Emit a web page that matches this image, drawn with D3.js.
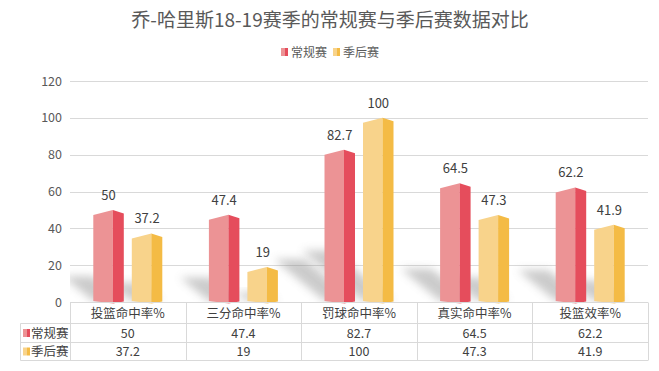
<!DOCTYPE html>
<html>
<head>
<meta charset="utf-8">
<script src="https://cdn.jsdelivr.net/npm/d3@7"></script>
<style>
  body { margin: 0; background: #fff; }
  text { font-family: "Noto Sans CJK SC", "Noto Sans", sans-serif; }
</style>
</head>
<body>
<svg width="659" height="371"></svg>
<script>
var categories = ["投篮命中率%", "三分命中率%", "罚球命中率%", "真实命中率%", "投篮效率%"];
var seriesNames = ["常规赛", "季后赛"];
var regular = [50, 47.4, 82.7, 64.5, 62.2];
var playoff = [37.2, 19, 100, 47.3, 41.9];
var yTicks = [0, 20, 40, 60, 80, 100, 120];

var svg = d3.select("svg"),
    width = +svg.attr("width"),
    height = +svg.attr("height");

// plot area (window.top is reserved, so use own names)
var plotLeft = 70, plotRight = 648, plotTop = 81, plotBottom = 302;

var x = d3.scaleBand().domain(categories).range([plotLeft, plotRight]);
var y = d3.scaleLinear().domain([0, 120]).range([plotBottom, plotTop]);

// front / side colours for each series
var colors = [
    {front: "#ec9395", side: "#e54d5c"},
    {front: "#f8d38b", side: "#f4bb45"}
];

var defs = svg.append("defs");
defs.append("filter")
    .attr("id", "blur")
    .attr("x", "-50%").attr("y", "-50%")
    .attr("width", "200%").attr("height", "200%")
    .append("feGaussianBlur")
    .attr("stdDeviation", 4);
defs.append("clipPath")
    .attr("id", "plotclip")
    .append("rect")
    .attr("x", plotLeft).attr("y", plotTop - 20)
    .attr("width", plotRight - plotLeft).attr("height", plotBottom - plotTop + 20);

// title
svg.append("text")
    .attr("x", 330)
    .attr("y", 27)
    .attr("text-anchor", "middle")
    .attr("font-size", 19)
    .attr("fill", "#595959")
    .text("乔-哈里斯18-19赛季的常规赛与季后赛数据对比");

// legend
function keyIcon(g, i, kx, ky) {
    g.append("rect").attr("x", kx).attr("y", ky).attr("width", 4).attr("height", 8).attr("fill", colors[i].front);
    g.append("rect").attr("x", kx + 4).attr("y", ky).attr("width", 3).attr("height", 8).attr("fill", colors[i].side);
}
var legend = svg.append("g");
var legendX = [281, 333];
seriesNames.forEach(function (name, i) {
    keyIcon(legend, i, legendX[i], 48);
    legend.append("text")
        .attr("x", legendX[i] + 10)
        .attr("y", 56.5)
        .attr("font-size", 12)
        .attr("fill", "#595959")
        .text(name);
});

// gridlines
svg.append("g")
    .selectAll("line")
    .data(yTicks)
    .enter().append("line")
    .attr("x1", plotLeft)
    .attr("x2", plotRight)
    .attr("y1", function (d) { return Math.round(y(d)) + 0.5; })
    .attr("y2", function (d) { return Math.round(y(d)) + 0.5; })
    .attr("stroke", "#d9d9d9")
    .attr("stroke-width", 1);

// y axis labels
svg.append("g")
    .selectAll("text")
    .data(yTicks)
    .enter().append("text")
    .attr("x", 62)
    .attr("y", function (d) { return y(d) + 4.5; })
    .attr("text-anchor", "end")
    .attr("font-size", 12.5)
    .attr("fill", "#595959")
    .text(function (d) { return d; });

// bar geometry inside a band
var frontW = 19.5, sideW = 11, gap = 8;
var groupW = 2 * (frontW + sideW) + gap;
function barX(cat, i) {
    return x(cat) + (x.bandwidth() - groupW) / 2 + i * (frontW + sideW + gap);
}

var bars = [];
categories.forEach(function (c, ci) {
    [regular[ci], playoff[ci]].forEach(function (v, si) {
        bars.push({cat: c, series: si, value: v});
    });
});

// soft cast shadows
svg.append("g")
    .attr("clip-path", "url(#plotclip)")
    .selectAll("path")
    .data(bars)
    .enter().append("path")
    .attr("d", function (d) {
        var x0 = barX(d.cat, d.series), x2 = x0 + frontW + sideW;
        var h = y(0) - y(d.value);
        var dx = -0.33 * h, dy = -0.28 * h;
        return "M" + x0 + "," + (plotBottom - 1) +
            "L" + x2 + "," + (plotBottom - 1) +
            "L" + (x2 + dx) + "," + (plotBottom + dy) +
            "L" + (x0 + dx) + "," + (plotBottom + dy) + "Z";
    })
    .attr("fill", "#8c8c8c")
    .attr("opacity", 0.45)
    .attr("filter", "url(#blur)");

// bars: front face + side face
var barG = svg.append("g")
    .selectAll("g")
    .data(bars)
    .enter().append("g");

barG.append("path")
    .attr("d", function (d) {
        var x0 = barX(d.cat, d.series), x1 = x0 + frontW, t = y(d.value);
        return "M" + x0 + "," + (t + 5) + "L" + x1 + "," + t +
            "L" + x1 + "," + (plotBottom + 1.5) + "L" + x0 + "," + (plotBottom - 1) + "Z";
    })
    .attr("fill", function (d) { return colors[d.series].front; });

barG.append("path")
    .attr("d", function (d) {
        var x1 = barX(d.cat, d.series) + frontW, x2 = x1 + sideW, t = y(d.value);
        return "M" + x1 + "," + t + "L" + x2 + "," + (t + 3.5) +
            "L" + x2 + "," + (plotBottom - 0.5) + "L" + x1 + "," + (plotBottom + 1.5) + "Z";
    })
    .attr("fill", function (d) { return colors[d.series].side; });

// data labels
barG.append("text")
    .attr("x", function (d) { return barX(d.cat, d.series) + (frontW + sideW) / 2; })
    .attr("y", function (d) { return y(d.value) - 10; })
    .attr("text-anchor", "middle")
    .attr("font-size", 13)
    .attr("fill", "#404040")
    .text(function (d) { return d.value; });

// data table
var rowY = [plotBottom + 0.5, 323.5, 342.5, 360.5];
var table = svg.append("g")
    .attr("stroke", "#d9d9d9")
    .attr("stroke-width", 1);
table.append("line").attr("x1", plotLeft).attr("x2", plotRight).attr("y1", rowY[0]).attr("y2", rowY[0]);
[1, 2, 3].forEach(function (r) {
    table.append("line").attr("x1", 20.5).attr("x2", plotRight).attr("y1", rowY[r]).attr("y2", rowY[r]);
});
table.append("line").attr("x1", 20.5).attr("x2", 20.5).attr("y1", rowY[1]).attr("y2", rowY[3]);
categories.concat([null]).forEach(function (c) {
    var xx = Math.round(c === null ? plotRight : x(c)) + 0.5;
    table.append("line").attr("x1", xx).attr("x2", xx).attr("y1", rowY[0]).attr("y2", rowY[3]);
});

var cells = svg.append("g")
    .attr("font-size", 12.5)
    .attr("fill", "#404040")
    .attr("text-anchor", "middle");

cells.selectAll(".cat")
    .data(categories)
    .enter().append("text")
    .attr("class", "cat")
    .attr("x", function (d) { return x(d) + x.bandwidth() / 2; })
    .attr("y", 317.5)
    .text(function (d) { return d; });

[regular, playoff].forEach(function (vals, si) {
    var ty = (rowY[si + 1] + rowY[si + 2]) / 2 + 4.5;
    cells.selectAll(".v" + si)
        .data(vals)
        .enter().append("text")
        .attr("class", "v" + si)
        .attr("x", function (d, i) { return x(categories[i]) + x.bandwidth() / 2; })
        .attr("y", ty)
        .text(function (d) { return d; });
    keyIcon(svg, si, 23, ty - 8.5);
    svg.append("text")
        .attr("x", 31)
        .attr("y", ty)
        .attr("font-size", 12.5)
        .attr("fill", "#404040")
        .text(seriesNames[si]);
});
</script>
</body>
</html>
